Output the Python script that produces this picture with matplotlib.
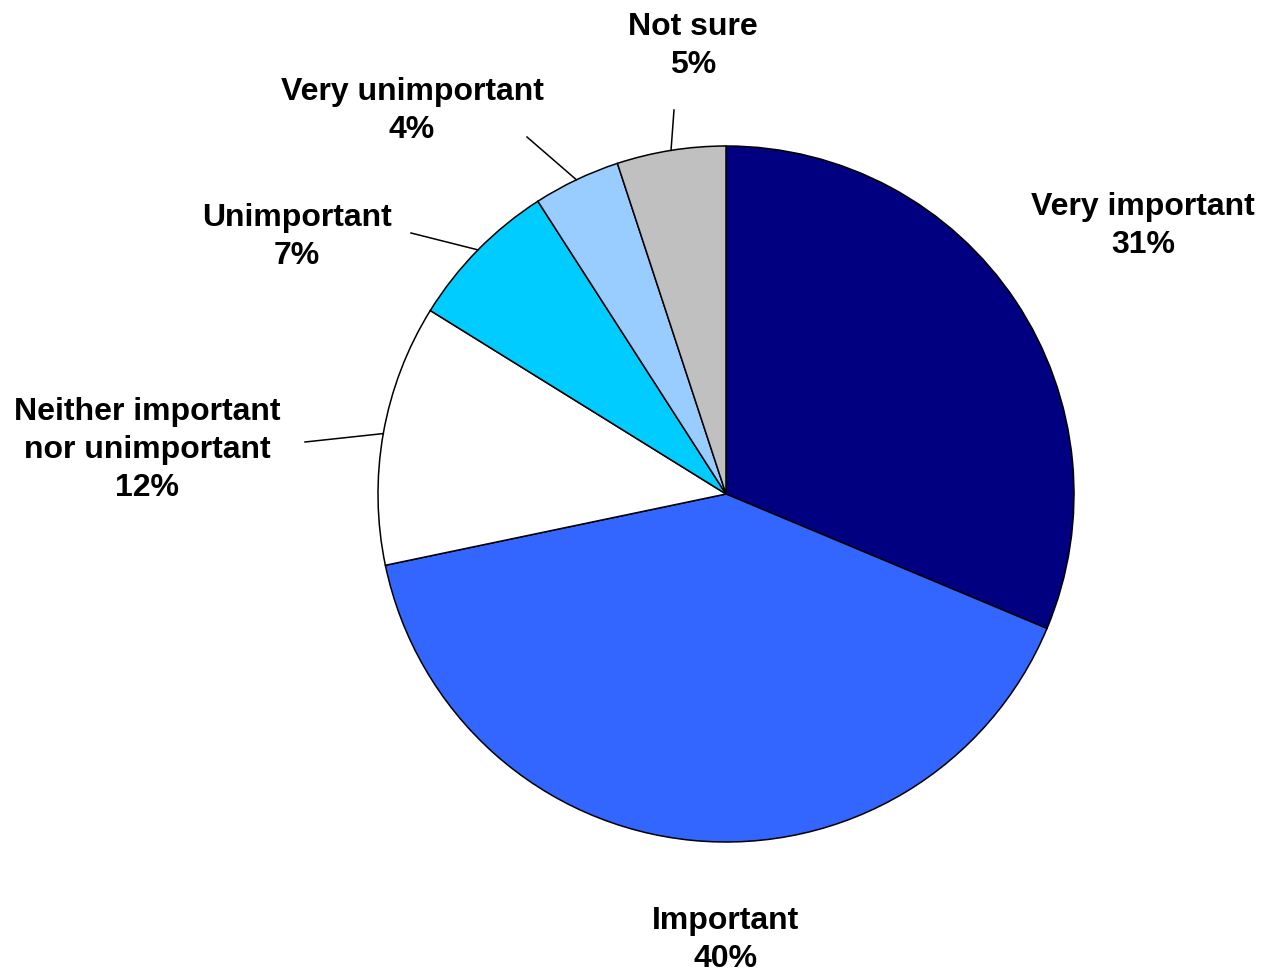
import numpy as np
import matplotlib
matplotlib.use("Agg")
import matplotlib.pyplot as plt

categories = ["Very important", "Important", "Neither important\nnor unimportant",
              "Unimportant", "Very unimportant", "Not sure"]
shares = [31, 40, 12, 7, 4, 5]
colors = ["#000080", "#3366FF", "#FFFFFF", "#00CCFF", "#99CCFF", "#C0C0C0"]

# label centres and leader-line outer ends (pixel-like canvas units, y up)
label_xy = [(1143, 746), (726, 32), (147, 522), (297, 735), (412, 861), (693, 926)]
leader_end = [None, None, (305, 530), (411, 739), (527, 835), (674, 862)]

W, H = 1261, 972
fig = plt.figure(figsize=(W / 100, H / 100), dpi=100)
ax = fig.add_axes([0, 0, 1, 1])

center = (726, 478)
radius = 348
wedges, _ = ax.pie(shares, colors=colors, startangle=90, counterclock=False,
                   center=center, radius=radius,
                   wedgeprops=dict(edgecolor="black", linewidth=1.1))

ax.set_xlim(0, W)
ax.set_ylim(0, H)
ax.set_axis_off()

for w, cat, val, xy, end in zip(wedges, categories, shares, label_xy, leader_end):
    ax.text(xy[0], xy[1], f"{cat}\n{val}%", ha="center", va="center",
            fontsize=23, fontweight="bold", family="Liberation Sans",
            linespacing=1.36)
    if end is not None:
        mid = np.deg2rad((w.theta1 + w.theta2) / 2)
        px = center[0] + radius * np.cos(mid)
        py = center[1] + radius * np.sin(mid)
        ax.plot([px, end[0]], [py, end[1]], color="black", lw=1.1)

fig.savefig("out.png", dpi=100)
